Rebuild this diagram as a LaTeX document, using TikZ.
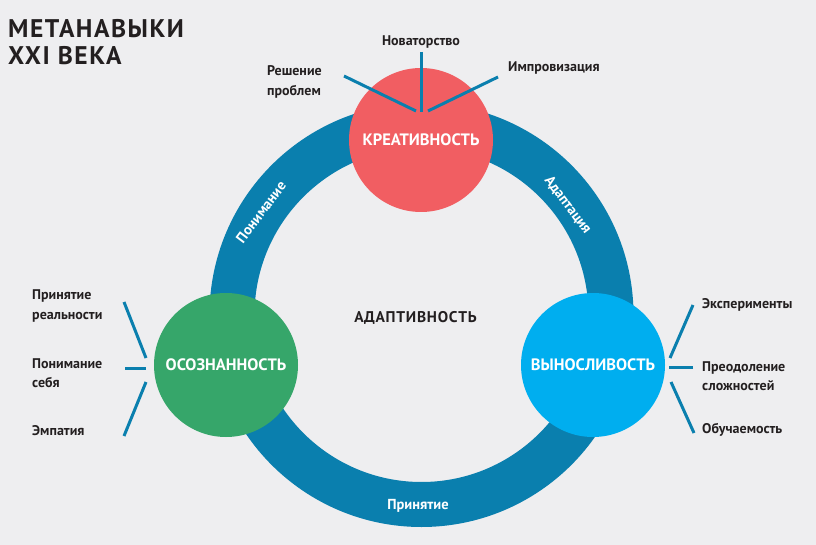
\documentclass[tikz,border=0pt]{standalone}
\usepackage{fontspec}
\setmainfont{PT Sans}
\definecolor{bg}{HTML}{EEEEF0}
\definecolor{ink}{HTML}{231F20}
\definecolor{ring}{HTML}{0A7FAE}
\definecolor{kred}{HTML}{F15E62}
\definecolor{kgreen}{HTML}{36A66A}
\definecolor{kblue}{HTML}{00AEEF}

\begin{document}
\begin{tikzpicture}[
  x=1pt, y=-1pt,
  hub/.style={circle, minimum size=144pt, inner sep=0pt, text=white, font=\bfseries\fontsize{16.5}{16.5}\selectfont},
  lbl/.style={anchor=west, align=left, inner sep=0pt, text=ink, font=\bfseries\fontsize{14}{19.5}\selectfont},
  bandtxt/.style={inner sep=0pt, text=white, font=\bfseries\fontsize{14.5}{14.5}\selectfont},
  spoke/.style={draw=ring, line width=3pt}
]
\fill[bg] (0,0) rectangle (816,545);
\useasboundingbox (0,0) rectangle (816,545);

% title
\node[anchor=north west, align=left, inner sep=0pt, text=ink,
  font=\addfontfeature{LetterSpace=6}\bfseries\fontsize{25.5}{27}\selectfont] (title) at (8,19) {МЕТАНАВЫКИ\\XXI ВЕКА};

% ring and hubs
\node[circle, draw=ring, line width=45pt, minimum size=379pt] (ring) at (421.5,315) {};
\node[inner sep=0pt, text=ink, font=\addfontfeature{LetterSpace=5}\bfseries\fontsize{15.5}{15.5}\selectfont] (adapt) at (415.5,318) {АДАПТИВНОСТЬ};
\node[bandtxt, rotate=53] (ponim) at (261,212) {Понимание};
\node[bandtxt, rotate=-53] (adaptac) at (568,205) {Адаптация};
\node[bandtxt] (prin) at (418,506) {Принятие};

\node[hub, fill=kred] (kreat) at (421,140) {КРЕАТИВНОСТЬ};
\node[hub, fill=kgreen] (osoz) at (226,365) {ОСОЗНАННОСТЬ};
\node[hub, fill=kblue] (vynos) at (593,365) {ВЫНОСЛИВОСТЬ};

% labels
\node[lbl, anchor=center] (novat) at (421,42) {Новаторство};
\node[lbl] (resh) at (267,82) {Решение\\проблем};
\node[lbl] (impr) at (508,68) {Импровизация};
\node[lbl] (prinr) at (32,306) {Принятие\\реальности};
\node[lbl] (ponims) at (32,373) {Понимание\\себя};
\node[lbl] (empat) at (32,431) {Эмпатия};
\node[lbl] (eksp) at (702,305) {Эксперименты};
\node[lbl] (preod) at (702,376) {Преодоление\\сложностей};
\node[lbl] (obuch) at (702,430) {Обучаемость};

% spoke ends
\coordinate (kr-n) at (421,52);  \coordinate (kr-n0) at (421,112);
\coordinate (kr-w) at (344,76);  \coordinate (kr-w0) at (416,111);
\coordinate (kr-e) at (498,77);  \coordinate (kr-e0) at (428,111);
\coordinate (os-n) at (124,302); \coordinate (os-n0) at (146,358);
\coordinate (os-m) at (125,368); \coordinate (os-m0) at (146,368);
\coordinate (os-s) at (124,436); \coordinate (os-s0) at (146,382);
\coordinate (vy-n) at (693,305); \coordinate (vy-n0) at (670,358);
\coordinate (vy-m) at (693,367); \coordinate (vy-m0) at (669,367);
\coordinate (vy-s) at (694,433); \coordinate (vy-s0) at (671,382);

\draw[spoke] (kr-n)--(kr-n0); \draw[spoke] (kr-w)--(kr-w0); \draw[spoke] (kr-e)--(kr-e0);
\draw[spoke] (os-n)--(os-n0); \draw[spoke] (os-m)--(os-m0); \draw[spoke] (os-s)--(os-s0);
\draw[spoke] (vy-n)--(vy-n0); \draw[spoke] (vy-m)--(vy-m0); \draw[spoke] (vy-s)--(vy-s0);
\end{tikzpicture}
\end{document}
